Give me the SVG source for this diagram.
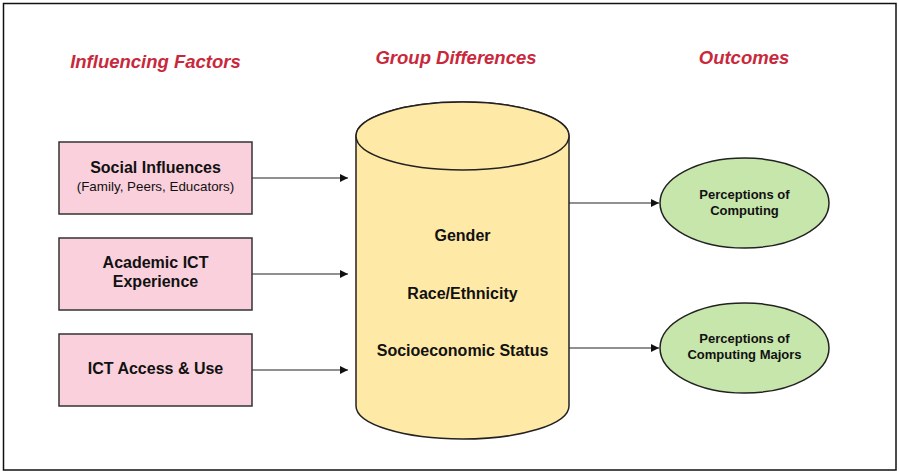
<svg xmlns="http://www.w3.org/2000/svg" width="899" height="473" viewBox="0 0 899 473">
<defs>
<style>
.title{font-family:"Liberation Sans",Arial,sans-serif;font-weight:bold;font-style:italic;font-size:18.5px;fill:#c9283c;text-anchor:middle}
.lbl{font-family:"Liberation Sans",Arial,sans-serif;font-weight:bold;font-size:16px;fill:#111;text-anchor:middle}
.sub{font-family:"Liberation Sans",Arial,sans-serif;font-size:13.4px;fill:#111;text-anchor:middle}
.elbl{font-family:"Liberation Sans",Arial,sans-serif;font-weight:bold;font-size:13px;fill:#111;text-anchor:middle}
.box{fill:#f9d0dc;stroke:#333;stroke-width:1.5}
.cyl{fill:#ffe9a6;stroke:#222;stroke-width:1.5}
.ell{fill:#c7e6ab;stroke:#222;stroke-width:1.5}
.conn{stroke:#222;stroke-width:1.2;fill:none;marker-end:url(#ah)}
</style>
<marker id="ah" viewBox="0 0 10 10" refX="10" refY="5" markerWidth="11" markerHeight="8" markerUnits="userSpaceOnUse" orient="auto">
<path d="M0,0 L10,5 L0,10 z" fill="#111"/>
</marker>
</defs>
<rect x="0" y="0" width="899" height="473" fill="#fff"/>
<rect x="3.5" y="3.5" width="892.5" height="466.5" fill="none" stroke="#111" stroke-width="1.5"/>
<text class="title" x="155.5" y="68">Influencing Factors</text>
<text class="title" x="456" y="64">Group Differences</text>
<text class="title" x="744" y="64">Outcomes</text>
<g id="connectors">
<line class="conn" x1="252" y1="178" x2="348" y2="178" stroke="#555"/>
<line class="conn" x1="252" y1="274" x2="348" y2="274"/>
<line class="conn" x1="252" y1="370" x2="348" y2="370"/>
<line class="conn" x1="569" y1="203" x2="659" y2="203"/>
<line class="conn" x1="569" y1="348" x2="659" y2="348"/>
</g>
<g id="social">
<rect class="box" x="59" y="142" width="193" height="72"/>
<text class="lbl" x="155.5" y="173">Social Influences</text>
<text class="sub" x="155.5" y="191">(Family, Peers, Educators)</text>
</g>
<g id="academic">
<rect class="box" x="59" y="238" width="193" height="72"/>
<text class="lbl" x="155.5" y="268">Academic ICT</text>
<text class="lbl" x="155.5" y="287">Experience</text>
</g>
<g id="ict">
<rect class="box" x="59" y="334" width="193" height="72"/>
<text class="lbl" x="155.5" y="374">ICT Access &amp; Use</text>
</g>
<g id="groups">
<path class="cyl" d="M356,136 L356,406 A106.5,33 0 0 0 569,406 L569,136 A106.5,34 0 0 0 356,136 Z"/>
<ellipse class="cyl" cx="462.5" cy="136" rx="106.5" ry="34"/>
<text class="lbl" x="462.5" y="241">Gender</text>
<text class="lbl" x="462.5" y="299">Race/Ethnicity</text>
<text class="lbl" x="462.5" y="356">Socioeconomic Status</text>
</g>
<g id="perc-computing">
<ellipse class="ell" cx="744.5" cy="203" rx="84.5" ry="45"/>
<text class="elbl" x="744.5" y="199">Perceptions of</text>
<text class="elbl" x="744.5" y="215">Computing</text>
</g>
<g id="perc-majors">
<ellipse class="ell" cx="744.5" cy="348" rx="84.5" ry="45"/>
<text class="elbl" x="744.5" y="343">Perceptions of</text>
<text class="elbl" x="744.5" y="359">Computing Majors</text>
</g>
</svg>
